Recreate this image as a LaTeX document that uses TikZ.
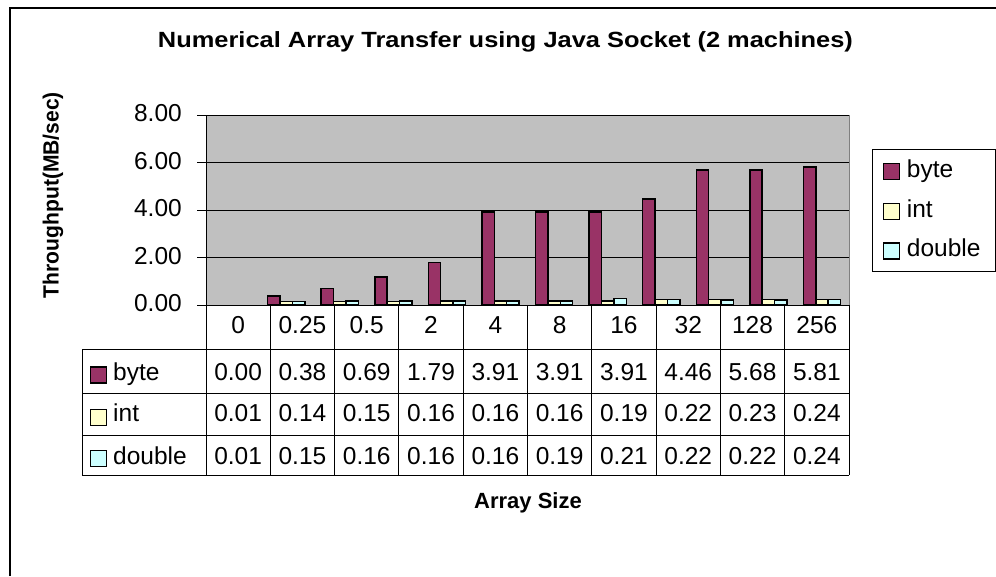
\documentclass[tikz,border=0pt]{standalone}
\usepackage{fontspec}
\setmainfont{Liberation Sans}
\usepackage{graphicx}
\definecolor{bytefill}{HTML}{993366}
\definecolor{intfill}{HTML}{FFFFCC}
\definecolor{dblfill}{HTML}{CCFFFF}
\definecolor{plotbg}{HTML}{C0C0C0}
\definecolor{plotframe}{HTML}{808080}
% stretch a text box to a given width, keeping its natural height
\newcommand\fitwidth[2]{\resizebox{#1}{\height}{#2}}
\begin{document}
\begin{tikzpicture}[x=1pt,y=-1pt,
  lbl/.style={font=\fontsize{24.5}{28}\selectfont, inner sep=0pt, anchor=base},
  boldlbl/.style={font=\bfseries\fontsize{22}{26}\selectfont, inner sep=0pt},
  barbox/.style={draw=black, line width=1.5pt},
  keybox/.style={draw=black, line width=1.4pt, minimum width=16pt, minimum height=16pt, inner sep=0pt},
  gridline/.style={draw=black, line width=1pt},
  tabline/.style={draw=black, line width=1pt}]
\useasboundingbox (0,0) rectangle (996,576);
\fill[white] (0,0) rectangle (996,576);

% outer chart frame (top and left edges)
\draw[line width=2.2pt] (10,576) -- (10,8) -- (996,8);

% title
\node[boldlbl, anchor=base] (title) at (505.5,47.7)
  {\fitwidth{695pt}{Numerical Array Transfer using Java Socket (2 machines)}};

% y axis title
\node[boldlbl, rotate=90] (ytitle) at (53,195) {\fitwidth{206pt}{Throughput(MB/sec)}};

% x axis title
\node[boldlbl, anchor=base] (xtitle) at (528,508) {Array Size};

% plot area
\fill[plotbg] (206,115) rectangle (849,305);
\draw[plotframe, line width=1pt] (206,115) -- (849,115) -- (849,305);
\foreach \v in {2,4,6,8}
  \draw[gridline] (206,{305-\v*23.75}) -- (849,{305-\v*23.75});

% value axis with ticks and labels
\draw[line width=1pt] (206,115) -- (206,305);
\foreach \v in {0,2,4,6,8} {
  \draw[line width=1pt] (197,{305-\v*23.75}) -- (206,{305-\v*23.75});
  \node[lbl, anchor=base east] (tick\v) at (182,{305-\v*23.75+6.5}) {\v.00};
}

% bars: byte / int / double per category slot
\def\slotw{53.583}
\def\barw{12.4}
\foreach \b/\n/\d [count=\i] in {
  0.38/0.14/0.15, 0.69/0.15/0.16, 1.17/0.15/0.16, 1.79/0.16/0.16,
  3.91/0.16/0.16, 3.91/0.16/0.17, 3.91/0.17/0.27, 4.46/0.24/0.24,
  5.68/0.23/0.22, 5.68/0.23/0.22, 5.81/0.24/0.24} {
  \pgfmathsetmacro\xl{206+\slotw*\i+8}
  \draw[barbox, fill=bytefill] (\xl,305) rectangle ++(\barw,{-\b*23.75});
  \draw[barbox, fill=intfill] ({\xl+\barw},305) rectangle ++(\barw,{-\n*23.75});
  \draw[barbox, fill=dblfill] ({\xl+2*\barw},305) rectangle ++(\barw,{-\d*23.75});
}
\draw[line width=1pt] (206,305) -- (849,305);

% data table grid
\draw[tabline] (82,349) -- (849,349);
\draw[tabline] (82,393) -- (849,393);
\draw[tabline] (82,435) -- (849,435);
\draw[tabline] (82,475) -- (849,475);
\draw[tabline] (82,349) -- (82,475);
\draw[tabline] (206,305) -- (206,475);
\foreach \k in {1,...,10}
  \draw[tabline] ({206+64.3*\k},305) -- ({206+64.3*\k},475);

% table header: array sizes
\foreach \t [count=\k from 0] in {0,0.25,0.5,2,4,8,16,32,128,256}
  \node[lbl] (hdr\k) at ({206+64.3*(\k+0.5)},333.3) {\t};

% table rows
\foreach \t [count=\k from 0] in {0.00,0.38,0.69,1.79,3.91,3.91,3.91,4.46,5.68,5.81}
  \node[lbl] (rb\k) at ({206+64.3*(\k+0.5)},380) {\t};
\foreach \t [count=\k from 0] in {0.01,0.14,0.15,0.16,0.16,0.16,0.19,0.22,0.23,0.24}
  \node[lbl] (ri\k) at ({206+64.3*(\k+0.5)},421.7) {\t};
\foreach \t [count=\k from 0] in {0.01,0.15,0.16,0.16,0.16,0.19,0.21,0.22,0.22,0.24}
  \node[lbl] (rd\k) at ({206+64.3*(\k+0.5)},464) {\t};

% table row keys
\node[keybox, fill=bytefill] (tkbyte) at (98.3,375) {};
\node[keybox, fill=intfill] (tkint) at (98.3,417.7) {};
\node[keybox, fill=dblfill] (tkdbl) at (98.3,458.7) {};
\node[lbl, anchor=base west] (tlbyte) at (113,380) {byte};
\node[lbl, anchor=base west] (tlint) at (113,421.7) {int};
\node[lbl, anchor=base west] (tldbl) at (113,464) {double};

% legend
\draw[line width=1pt] (872.7,149.3) rectangle (995.3,271);
\node[keybox, fill=bytefill] (lkbyte) at (891.3,171.7) {};
\node[keybox, fill=intfill] (lkint) at (891.3,211.3) {};
\node[keybox, fill=dblfill] (lkdbl) at (891.3,251) {};
\node[lbl, anchor=base west] (lgbyte) at (906.7,177.3) {byte};
\node[lbl, anchor=base west] (lgint) at (906.7,217.3) {int};
\node[lbl, anchor=base west] (lgdbl) at (906.7,256.7) {double};
\end{tikzpicture}
\end{document}
